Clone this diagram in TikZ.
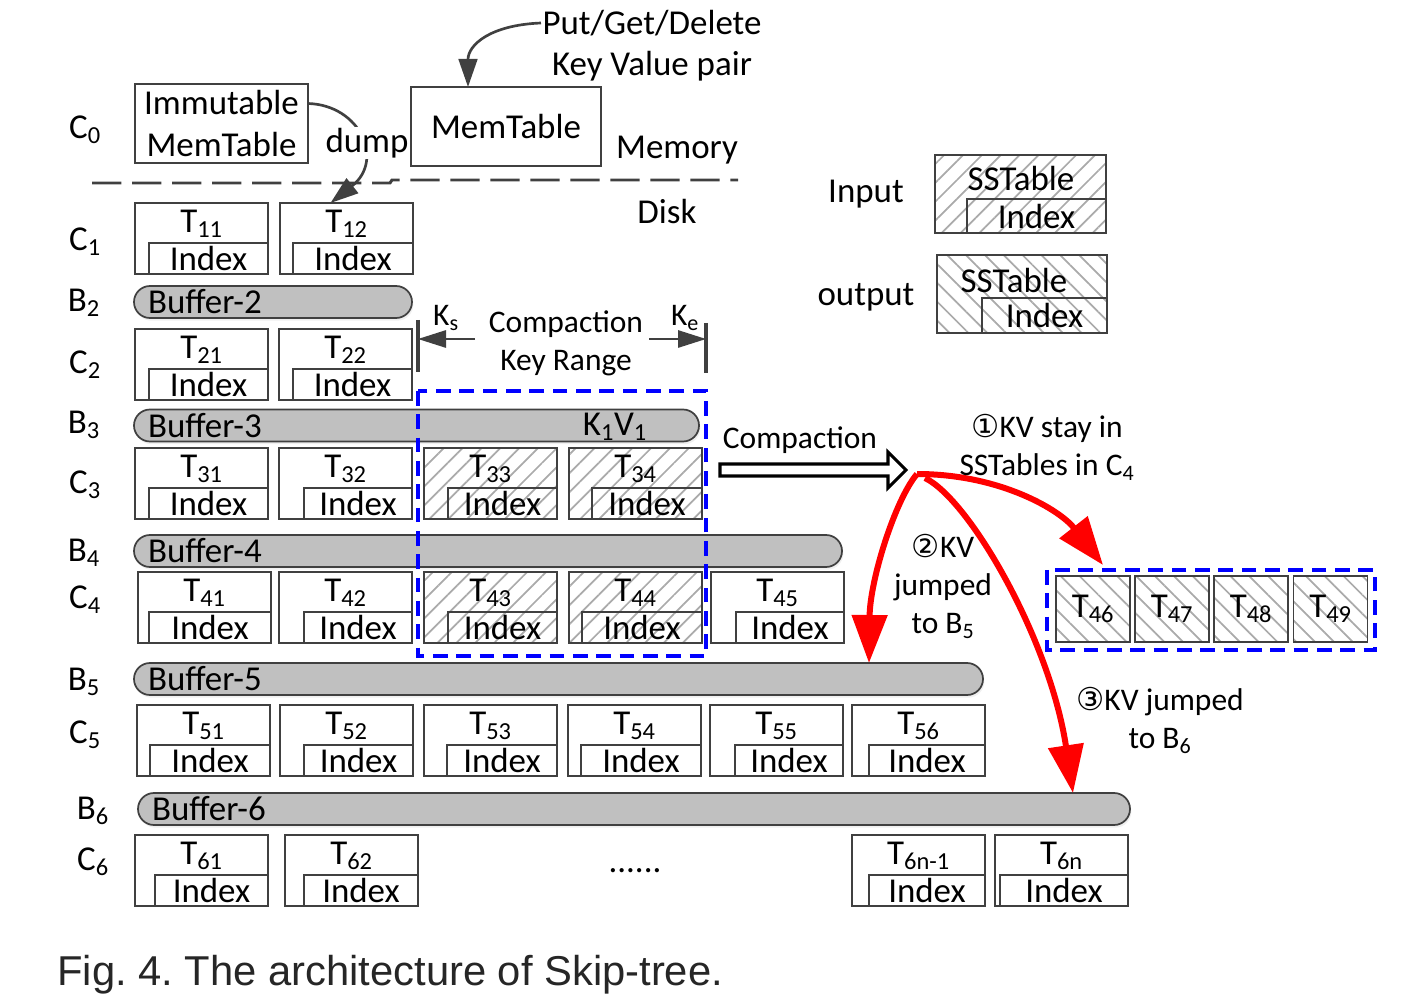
\documentclass[tikz,border=0pt]{standalone}
\usepackage{fontspec}
\setmainfont{Carlito}
\newfontfamily\circfont{DejaVu Sans}
\newfontfamily\capfont{Liberation Sans}
\usetikzlibrary{positioning, arrows.meta, patterns.meta, calc, shadows}
\definecolor{bufgray}{RGB}{192,192,192}
\definecolor{linegray}{RGB}{64,64,64}
\definecolor{hatchgray}{RGB}{170,170,170}
\definecolor{rangeblue}{RGB}{0,0,255}
\definecolor{jumpred}{RGB}{255,0,0}
\frenchspacing

\newcommand\bigtxt{\fontsize{26.2}{31}\selectfont}
\newcommand\midtxt{\fontsize{23.6}{28.5}\selectfont}

\tikzset{
  box/.style={draw=linegray, line width=1.3pt, rectangle, inner sep=0pt, outer sep=0pt},
  tbl/.style={box, minimum width=99.75pt, minimum height=53.25pt},
  idx/.style={box, minimum height=23.25pt, font=\bigtxt, anchor=south east},
  newtbl/.style={box, minimum width=55.5pt, minimum height=49.5pt, font=\bigtxt},
  inhatch/.style={pattern={Lines[angle=45,distance=10pt,line width=1.3pt]}, pattern color=hatchgray},
  outhatch/.style={pattern={Lines[angle=-45,distance=10pt,line width=1.3pt]}, pattern color=hatchgray},
  buf/.style={draw=linegray, fill=bufgray, line width=1.3pt, rounded corners=12pt,
    minimum height=24pt, inner xsep=10.5pt, inner ysep=0pt, outer sep=0pt,
    align=left, font=\bigtxt, anchor=west,
    drop shadow={opacity=0.12, shadow xshift=1pt, shadow yshift=-2pt}},
  lvl/.style={font=\bigtxt, inner sep=1pt},
  note/.style={font=\midtxt, inner sep=1pt, align=center},
  rng/.style={draw=rangeblue, line width=3pt, dash pattern=on 11pt off 6.5pt},
  jump/.style={draw=jumpred, line width=4.5pt, -{Triangle[length=36pt, width=26pt]}},
  conn/.style={draw=linegray, line width=2pt, -{Triangle[length=21pt, width=14pt]}},
  kbar/.style={draw=linegray, line width=3pt},
  kend/.style={draw=linegray, line width=1.3pt, -{Triangle[length=21pt, width=13pt]}},
  divider/.style={draw=linegray, line width=2.2pt, dash pattern=on 22pt off 8pt}
}

% SSTable with its index: [style] name, left, top, subscript, index left
\newcommand\sst[6][]{%
  \node[tbl,#1] (#2) at (#3+66.5,#4+35.5) {};
  \node[lvl] at ($(#2.north)+(0,21)$) {T\textsubscript{#5}};
  \node[idx, minimum width={(#3+133-#6)*0.75pt}] (#2i) at (#2.south east) {Index};
}
% buffer: name, left, centre y, width, text
\newcommand\bufr[5]{%
  \node[buf, text width={(#4-28)*0.75pt}] (#1) at (#2,#3) {#5};
}

\begin{document}
\begin{tikzpicture}[x=0.75pt, y=-0.75pt]
    \useasboundingbox (0,0) rectangle (1422,1005);

    % Memory part
    \node[box, minimum width=129.75pt, minimum height=59.25pt, align=center, font=\bigtxt] (imm) at (221.5,123.5) {Immutable\\MemTable};
    \node[box, minimum width=142.5pt, minimum height=59.25pt, font=\bigtxt] (mem) at (506,126.5) {MemTable};
    \node[lvl] (pgd) at (652,23) {Put/Get/Delete};
    \node[lvl] (kvp) at (652,66) {Key Value pair};
    \node[lvl] (memlab) at (677,150) {Memory};
    \node[lvl] (disklab) at (667,212) {Disk};
    \draw[conn] (pgd.west) .. controls (490,25) and (468,45) .. ($(mem.north)+(-38,0)$);
    \draw[divider] (92,183) -- (390,183) -- (392,180) -- (738,180);

    % level labels
    \node[lvl] (c0) at (85,130) {C\textsubscript{0}};
    \node[lvl] (c1) at (85,242) {C\textsubscript{1}};
    \node[lvl] (b2) at (84,303) {B\textsubscript{2}};
    \node[lvl] (c2) at (85,365) {C\textsubscript{2}};
    \node[lvl] (b3) at (84,425) {B\textsubscript{3}};
    \node[lvl] (c3) at (85,485) {C\textsubscript{3}};
    \node[lvl] (b4) at (84,553) {B\textsubscript{4}};
    \node[lvl] (c4) at (85,600) {C\textsubscript{4}};
    \node[lvl] (b5) at (84,682) {B\textsubscript{5}};
    \node[lvl] (c5) at (85,735) {C\textsubscript{5}};
    \node[lvl] (b6) at (93,811) {B\textsubscript{6}};
    \node[lvl] (c6) at (93,862) {C\textsubscript{6}};

    % C1 and C2
    \sst{t11}{135}{203}{11}{149}
    \sst{t12}{280}{203}{12}{293}
    \sst{t21}{135}{329}{21}{149}
    \sst{t22}{279}{329}{22}{293}

    % dump from the immutable memtable
    \draw[conn] ($(imm.east)+(0,-20)$) .. controls (360,105) and (385,160) .. ($(t12.north)+(-16,0)$);
    \node[lvl, fill=white] (dump) at (367,143) {dump};

    % buffers
    \bufr{buf2}{134}{302}{278}{Buffer-2}
    \bufr{buf3}{134}{425.5}{565}{Buffer-3}
    \bufr{buf4}{134}{551}{708}{Buffer-4}
    \bufr{buf5}{134}{679}{849}{Buffer-5}
    \bufr{buf6}{138}{809}{992}{Buffer-6}
    \node[lvl] (kv) at (615,427) {K\textsubscript{1}V\textsubscript{1}};

    % C3
    \sst{t31}{135}{448}{31}{149}
    \sst{t32}{279}{448}{32}{304}
    \sst[inhatch]{t33}{424}{448}{33}{448}
    \sst[inhatch]{t34}{569}{448}{34}{592}
    % C4
    \sst{t41}{138}{572}{41}{149}
    \sst{t42}{279}{572}{42}{304}
    \sst[inhatch]{t43}{424}{572}{43}{448}
    \sst[inhatch]{t44}{569}{572}{44}{582}
    \sst{t45}{711}{572}{45}{736}
    % C5
    \sst{t51}{137}{705}{51}{150}
    \sst{t52}{280}{705}{52}{304}
    \sst{t53}{424}{705}{53}{447}
    \sst{t54}{568}{705}{54}{581}
    \sst{t55}{710}{705}{55}{735}
    \sst{t56}{852}{705}{56}{869}
    % C6
    \sst{t61}{135}{835}{61}{155}
    \sst{t62}{285}{835}{62}{304}
    \sst{t6m}{852}{835}{6n-1}{869}
    \sst{t6n}{995}{835}{6n}{1000}
    \node[lvl] (dots) at (635,871) {......};

    % compaction key range
    \coordinate (ks) at (418,339);
    \coordinate (ke) at (706,339);
    \draw[kbar] ($(ks)+(0,-19)$) -- ($(ks)+(0,33)$);
    \draw[kbar] ($(ke)+(0,-16)$) -- ($(ke)+(0,34)$);
    \draw[kend] ($(ks)+(57,0)$) -- (ks);
    \draw[kend] ($(ke)+(-57,0)$) -- (ke);
    \node[note] (kslab) at (446,318) {K\textsubscript{s}};
    \node[note] (kelab) at (685,318) {K\textsubscript{e}};
    \node[note] (krange) at (566,343) {Compaction\\Key Range};
    \draw[rng] (418,391) rectangle (706,656);

    % legend
    \node[lvl] (inlab) at (866,194) {Input};
    \node[box, inhatch, minimum width=128.25pt, minimum height=58.5pt] (inbox) at (1020.5,194) {};
    \node[idx, minimum width=104.25pt, minimum height=25.5pt] (inidx) at (inbox.south east) {Index};
    \node[lvl] (insst) at (1021,179) {SSTable};
    \node[lvl] (outlab) at (866,297) {output};
    \node[box, outhatch, minimum width=127.5pt, minimum height=58.5pt] (outbox) at (1022,294) {};
    \node[idx, minimum width=93.75pt, minimum height=26.25pt] (outidx) at (outbox.south east) {Index};
    \node[lvl] (outsst) at (1014,281) {SSTable};

    % compaction result
    \node[note] (cmplab) at (800,440) {Compaction};
    \draw[line width=2.3pt, fill=white] (720,464) -- (888,464) -- (888,452) -- (906,470)
        -- (888,488) -- (888,476) -- (720,476) -- cycle;
    \node[newtbl, outhatch] (t46) at (1093,609) {T\textsubscript{46}};
    \node[newtbl, outhatch] (t47) at (1172,609) {T\textsubscript{47}};
    \node[newtbl, outhatch] (t48) at (1251,609) {T\textsubscript{48}};
    \node[newtbl, outhatch] (t49) at (1330.5,609) {T\textsubscript{49}};
    \draw[rng] (1047,570) rectangle (1375,650);

    \coordinate (split) at (917,474);
    \draw[jump] (split) .. controls (1000,474) and (1060,510) .. ($(t46.north)+(10,-11)$);
    \draw[jump] (split) .. controls (895,500) and (870,580) .. ($(buf5.north east)+(-114,0)$);
    \draw[jump] ($(split)+(8,4)$) .. controls (970,500) and (1050,640) .. ($(buf6.north east)+(-57,0)$);
    \node[note] (stay) at (1047,447) {{\circfont ①}KV stay in\\SSTables in C\textsubscript{4}};
    \node[note] (jmp5) at (943,586) {{\circfont ②}KV\\jumped\\to B\textsubscript{5}};
    \node[note] (jmp6) at (1160,720) {{\circfont ③}KV jumped\\to B\textsubscript{6}};

    % caption
    \node[anchor=west, inner sep=0pt, text=black!85, font=\capfont\fontsize{31.3}{36}\selectfont] (cap) at (57,975) {Fig. 4. The architecture of Skip-tree.};
\end{tikzpicture}
\end{document}
